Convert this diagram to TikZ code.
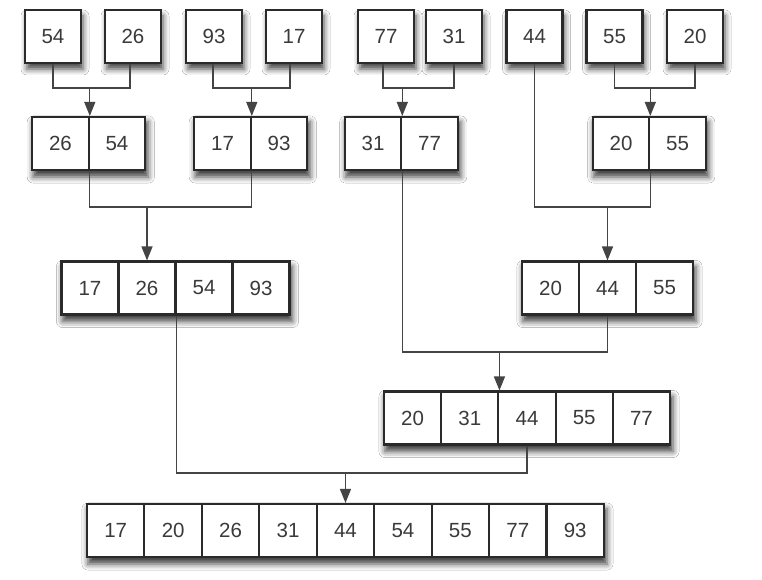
\documentclass[tikz,border=0pt]{standalone}
\usepackage{fontspec}
\setmainfont{Liberation Sans}
\usetikzlibrary{arrows.meta,shadows.blur,fit,backgrounds}
\definecolor{boxline}{HTML}{2A2A2A}
\definecolor{txt}{HTML}{3A3A3A}
\definecolor{wirec}{HTML}{444444}
\begin{document}
\begin{tikzpicture}[x=1pt,y=-1pt,
  cell/.style={draw=boxline, line width=2.1pt, fill=white, minimum height=53pt,
    inner sep=0pt, text=txt, font=\fontsize{20.5}{23}\selectfont},
  shad/.style={blur shadow={shadow xshift=2pt, shadow yshift=-6pt, shadow blur radius=6pt, shadow opacity=75}},
  single/.style={cell, minimum width=56pt, shad},
  grp/.style={inner sep=0pt, fill=white, shad},
  wire/.style={draw=wirec, line width=1.3pt},
  arr/.style={wire, -{Triangle[width=11pt,length=14pt]}}]
\useasboundingbox (0,0) rectangle (762,580);

% row 1
\node[single] (a54) at (53,36.5) {54};
\node[single] (a26) at (133,36.5) {26};
\node[single] (a93) at (214,36.5) {93};
\node[single] (a17) at (294,36.5) {17};
\node[single] (a77) at (386,36.5) {77};
\node[single] (a31) at (454,36.5) {31};
\node[single] (a44) at (534.5,36.5) {44};
\node[single] (a55) at (614.5,36.5) {55};
\node[single] (a20) at (695,36.5) {20};

% row 2
\tikzset{c2/.style={cell, minimum width=56.5pt}}
\node[c2] (b1) at (60.5,143.5) {26};
\node[c2] (b2) at (117,143.5) {54};
\node[c2] (b3) at (222.5,143.5) {17};
\node[c2] (b4) at (279,143.5) {93};
\node[c2] (b5) at (373,143.5) {31};
\node[c2] (b6) at (429.5,143.5) {77};
\node[c2] (b7) at (621,143.5) {20};
\node[c2] (b8) at (677.5,143.5) {55};

% row 3
\tikzset{c3/.style={cell, minimum width=57pt}}
\node[c3] (e1) at (90,288) {17};
\node[c3] (e2) at (147,288) {26};
\node[c3] (e3) at (204,288) {54};
\node[c3] (e4) at (261,288) {93};
\node[c3] (f1) at (550.5,288) {20};
\node[c3] (f2) at (607.5,288) {44};
\node[c3] (f3) at (664.5,288) {55};

% row 4
\tikzset{c4/.style={cell, minimum width=57.2pt}}
\node[c4] (g1) at (412.6,418) {20};
\node[c4] (g2) at (469.8,418) {31};
\node[c4] (g3) at (527,418) {44};
\node[c4] (g4) at (584.2,418) {55};
\node[c4] (g5) at (641.4,418) {77};

% row 5
\tikzset{c5/.style={cell, minimum width=57.44pt}}
\foreach \v [count=\i] in {17,20,26,31,44,54,55,77,93}
  \node[c5] (h\i) at ({115.72+57.44*(\i-1)},530.5) {\v};

% white page and group shadows
\begin{scope}[on background layer]
  \fill[white] (0,0) rectangle (762,580);
  \node[grp, fit=(b1)(b2)] (sb1) {};
  \node[grp, fit=(b3)(b4)] (sb2) {};
  \node[grp, fit=(b5)(b6)] (sb3) {};
  \node[grp, fit=(b7)(b8)] (sb4) {};
  \node[grp, fit=(e1)(e4)] (se) {};
  \node[grp, fit=(f1)(f3)] (sf) {};
  \node[grp, fit=(g1)(g5)] (sg) {};
  \node[grp, fit=(h1)(h9)] (sh) {};
\end{scope}

% junctions
\coordinate (j1) at (b1.north east |- 0,88);
\coordinate (j2) at (b3.north east |- 0,88);
\coordinate (j3) at (b5.north east |- 0,88);
\coordinate (j4) at (b7.north east |- 0,88);
\coordinate (j5) at (e2.north |- 0,207);
\coordinate (j6) at (f2.north |- 0,207);
\coordinate (j7) at (g2.north east |- 0,352);
\coordinate (j8) at (h5.north |- 0,473);

% connectors
\draw[wire] (a54.south) |- (j1) -| ([xshift=-3pt]a26.south);
\draw[arr] (j1) -- (b1.north east);
\draw[wire] ([xshift=-1pt]a93.south) |- (j2) -| ([xshift=-4pt]a17.south);
\draw[arr] (j2) -- (b3.north east);
\draw[wire] ([xshift=-3pt]a77.south) |- (j3) -| (a31.south);
\draw[arr] (j3) -- (b5.north east);
\draw[wire] (a55.south) |- (j4) -| (a20.south);
\draw[arr] (j4) -- (b7.north east);

\draw[wire] (b1.south east) |- (j5) -| (b3.south east);
\draw[arr] (j5) -- (e2.north);
\draw[wire] (a44.south) |- (j6) -| (b7.south east);
\draw[arr] (j6) -- (f2.north);

\draw[wire] (b5.south east) |- (j7) -| (f2.south);
\draw[arr] (j7) -- (g2.north east);
\draw[wire] (e2.south east) |- (j8) -| (g3.south);
\draw[arr] (j8) -- (h5.north);
\end{tikzpicture}
\end{document}
